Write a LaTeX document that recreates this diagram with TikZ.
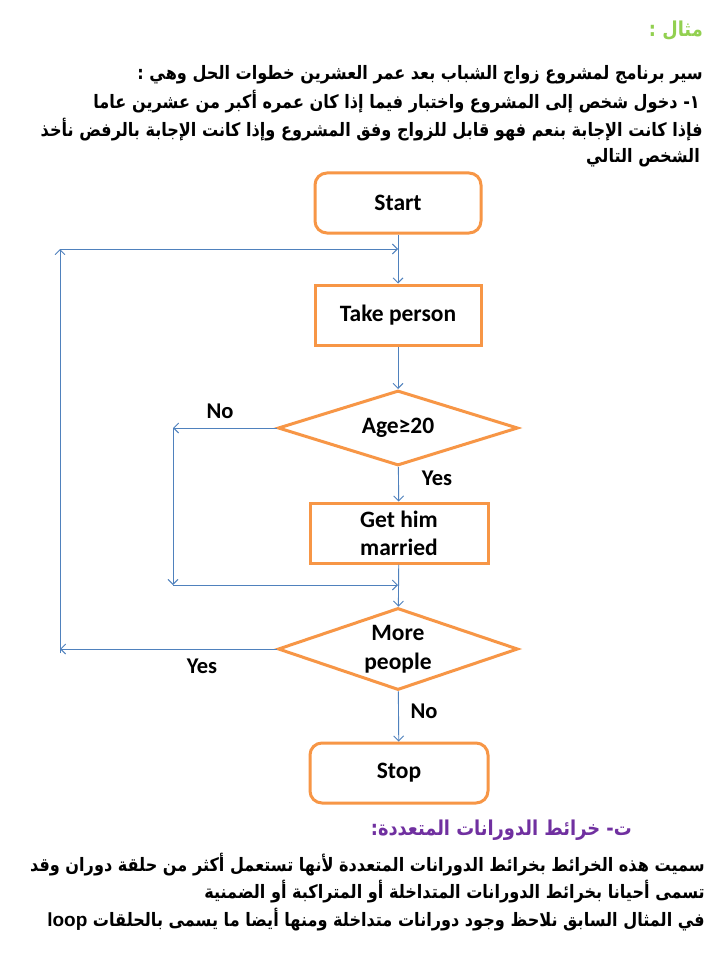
\documentclass[tikz,border=0pt]{standalone}
\usepackage{fontspec}
\setmainfont{Carlito}
\newfontfamily\arabicfont[Script=Arabic,FakeStretch=0.87]{DejaVu Sans}
\newfontfamily\latinar[FakeStretch=1.0]{Liberation Sans}
\TeXXeTstate=1
\usetikzlibrary{shapes.geometric,arrows.meta}
\definecolor{orng}{HTML}{F79646}
\definecolor{blu}{HTML}{4F81BD}
\definecolor{grn}{HTML}{92D050}
\definecolor{purp}{HTML}{7030A0}
\tikzset{
  box/.style={draw=orng,line width=3pt,minimum width=166pt,minimum height=60pt,inner sep=2pt,align=center,font=\fontsize{23.5}{28}\selectfont\bfseries},
  term/.style={box,rounded corners=12pt},
  dec/.style={draw=orng,line width=3pt,diamond,aspect=3.2,minimum width=240pt,minimum height=75pt,inner sep=0pt,align=center,font=\fontsize{23.5}{29}\selectfont\bfseries},
  conn/.style={draw=blu,line width=0.9pt,-{Straight Barb[length=5pt,width=10pt]}},
  lbl/.style={font=\fontsize{22.5}{24}\selectfont\bfseries},
  ar/.style={anchor=east,inner sep=0pt,font=\arabicfont\bfseries\fontsize{18.5}{22}\selectfont},
}
\begin{document}
\begin{tikzpicture}[x=1pt,y=-1pt]
\useasboundingbox[fill=white] (0,0) rectangle (720,960);
% text top
\node[ar,text=grn,font=\arabicfont\bfseries\fontsize{20.5}{22}\selectfont] (t0) at (703,31) {\beginR مثال :\endR};
\node[ar] (t1) at (703,75) {\beginR سير برنامج لمشروع زواج الشباب بعد عمر العشرين خطوات الحل وهي :\endR};
\node[ar] (t2) at (700,102) {\beginR ١- دخول شخص إلى المشروع واختبار فيما إذا كان عمره أكبر من عشرين عاما\endR};
\node[ar] (t3) at (703,130) {\beginR فإذا كانت الإجابة بنعم فهو قابل للزواج وفق المشروع وإذا كانت الإجابة بالرفض نأخذ\endR};
\node[ar] (t4) at (700,158) {\beginR الشخص التالي\endR};
% flowchart
\node[term] (start) at (398,203) {Start};
\node[box] (take) at (398,315) {Take person};
\node[dec] (age) at (398,428) {Age≥20};
\node[box,minimum width=178pt] (married) at (399,533) {Get him\\married};
\node[dec,minimum height=82pt] (more) at (398,649) {More\\people};
\node[term,minimum width=178pt] (stop) at (399,773) {Stop};
\coordinate (m1) at (398,249);
\coordinate (ltop) at (60,249);
\coordinate (lleft) at (60,649);
\coordinate (lbot) at (60,653);
\coordinate (n1) at (173,428);
\coordinate (n2) at (173,585);
\coordinate (m2) at (398,585);
\draw[conn] (start) -- (take);
\draw[conn] (take) -- (age);
\draw[conn] (age) -- (married);
\draw[conn] (married) -- (more);
\draw[conn] (more) -- (stop);
\draw[conn] (age.west) -- (n1);
\draw[conn] (n1) -- (n2);
\draw[conn] (n2) -- (m2);
\draw[conn] (more.west) -- (lleft);
\draw[conn] (lbot) -- (ltop);
\draw[conn] (ltop) -- (m1);
\node[lbl] (lno1) at (220,411) {No};
\node[lbl] (lyes1) at (437,478) {Yes};
\node[lbl] (lyes2) at (202,666) {Yes};
\node[lbl] (lno2) at (424,711) {No};
% text bottom
\node[ar,text=purp,font=\arabicfont\bfseries\fontsize{20.5}{22}\selectfont] (h) at (632,830) {\beginR ت- خرائط الدورانات المتعددة:\endR};
\node[ar] (b1) at (705,865) {\beginR سميت هذه الخرائط بخرائط الدورانات المتعددة لأنها تستعمل أكثر من حلقة دوران وقد\endR};
\node[ar] (b2) at (705,892) {\beginR تسمى أحيانا بخرائط الدورانات المتداخلة أو المتراكبة أو الضمنية\endR};
\node[ar] (b3) at (705,920) {\beginR في المثال السابق نلاحظ وجود دورانات متداخلة  ومنها أيضا ما يسمى بالحلقات  \beginL{\latinar\bfseries\fontsize{19}{22}\selectfont loop}\endL\endR};
\end{tikzpicture}
\end{document}
